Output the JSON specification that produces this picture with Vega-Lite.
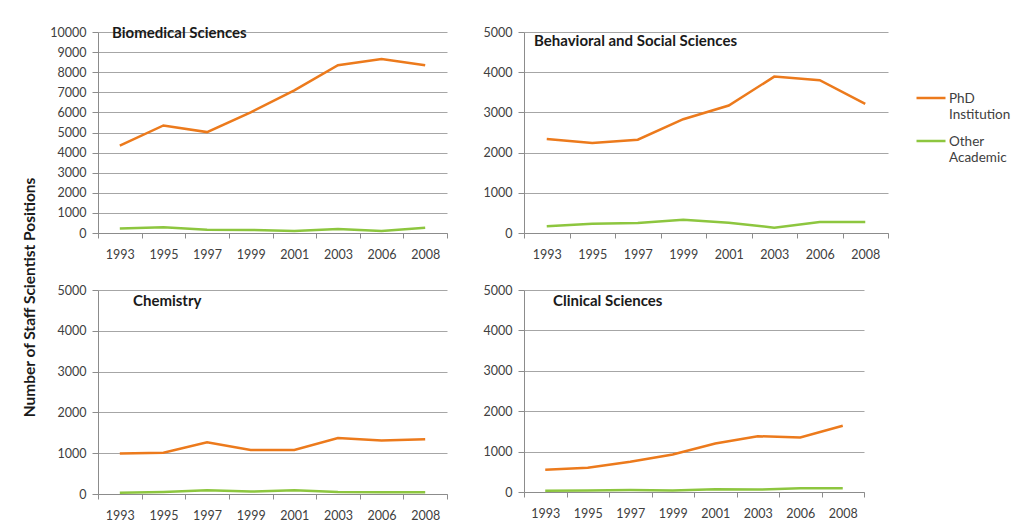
{
  "$schema": "https://vega.github.io/schema/vega-lite/v6.json",
  "padding": {"left": 22, "top": 26, "right": 5, "bottom": 5},
  "background": "white",
  "bounds": "flush",
  "columns": 2,
  "spacing": {"row": 57, "column": 77},
  "data": {
    "values": [
      {"panel": "Biomedical Sciences", "year": "1993", "type": "PhD Institution", "value": 4350},
      {"panel": "Biomedical Sciences", "year": "1995", "type": "PhD Institution", "value": 5350},
      {"panel": "Biomedical Sciences", "year": "1997", "type": "PhD Institution", "value": 5020},
      {"panel": "Biomedical Sciences", "year": "1999", "type": "PhD Institution", "value": 6000},
      {"panel": "Biomedical Sciences", "year": "2001", "type": "PhD Institution", "value": 7100},
      {"panel": "Biomedical Sciences", "year": "2003", "type": "PhD Institution", "value": 8350},
      {"panel": "Biomedical Sciences", "year": "2006", "type": "PhD Institution", "value": 8650},
      {"panel": "Biomedical Sciences", "year": "2008", "type": "PhD Institution", "value": 8350},
      {"panel": "Biomedical Sciences", "year": "1993", "type": "Other Academic", "value": 230},
      {"panel": "Biomedical Sciences", "year": "1995", "type": "Other Academic", "value": 280},
      {"panel": "Biomedical Sciences", "year": "1997", "type": "Other Academic", "value": 165},
      {"panel": "Biomedical Sciences", "year": "1999", "type": "Other Academic", "value": 150},
      {"panel": "Biomedical Sciences", "year": "2001", "type": "Other Academic", "value": 100},
      {"panel": "Biomedical Sciences", "year": "2003", "type": "Other Academic", "value": 200},
      {"panel": "Biomedical Sciences", "year": "2006", "type": "Other Academic", "value": 100},
      {"panel": "Biomedical Sciences", "year": "2008", "type": "Other Academic", "value": 265},
      {"panel": "Behavioral and Social Sciences", "year": "1993", "type": "PhD Institution", "value": 2340},
      {"panel": "Behavioral and Social Sciences", "year": "1995", "type": "PhD Institution", "value": 2240},
      {"panel": "Behavioral and Social Sciences", "year": "1997", "type": "PhD Institution", "value": 2320},
      {"panel": "Behavioral and Social Sciences", "year": "1999", "type": "PhD Institution", "value": 2830},
      {"panel": "Behavioral and Social Sciences", "year": "2001", "type": "PhD Institution", "value": 3170},
      {"panel": "Behavioral and Social Sciences", "year": "2003", "type": "PhD Institution", "value": 3890},
      {"panel": "Behavioral and Social Sciences", "year": "2006", "type": "PhD Institution", "value": 3800},
      {"panel": "Behavioral and Social Sciences", "year": "2008", "type": "PhD Institution", "value": 3210},
      {"panel": "Behavioral and Social Sciences", "year": "1993", "type": "Other Academic", "value": 170},
      {"panel": "Behavioral and Social Sciences", "year": "1995", "type": "Other Academic", "value": 232},
      {"panel": "Behavioral and Social Sciences", "year": "1997", "type": "Other Academic", "value": 249},
      {"panel": "Behavioral and Social Sciences", "year": "1999", "type": "Other Academic", "value": 330},
      {"panel": "Behavioral and Social Sciences", "year": "2001", "type": "Other Academic", "value": 257},
      {"panel": "Behavioral and Social Sciences", "year": "2003", "type": "Other Academic", "value": 133},
      {"panel": "Behavioral and Social Sciences", "year": "2006", "type": "Other Academic", "value": 274},
      {"panel": "Behavioral and Social Sciences", "year": "2008", "type": "Other Academic", "value": 274},
      {"panel": "Chemistry", "year": "1993", "type": "PhD Institution", "value": 990},
      {"panel": "Chemistry", "year": "1995", "type": "PhD Institution", "value": 1010},
      {"panel": "Chemistry", "year": "1997", "type": "PhD Institution", "value": 1270},
      {"panel": "Chemistry", "year": "1999", "type": "PhD Institution", "value": 1080},
      {"panel": "Chemistry", "year": "2001", "type": "PhD Institution", "value": 1080},
      {"panel": "Chemistry", "year": "2003", "type": "PhD Institution", "value": 1370},
      {"panel": "Chemistry", "year": "2006", "type": "PhD Institution", "value": 1310},
      {"panel": "Chemistry", "year": "2008", "type": "PhD Institution", "value": 1340},
      {"panel": "Chemistry", "year": "1993", "type": "Other Academic", "value": 30},
      {"panel": "Chemistry", "year": "1995", "type": "Other Academic", "value": 50},
      {"panel": "Chemistry", "year": "1997", "type": "Other Academic", "value": 90},
      {"panel": "Chemistry", "year": "1999", "type": "Other Academic", "value": 60},
      {"panel": "Chemistry", "year": "2001", "type": "Other Academic", "value": 90},
      {"panel": "Chemistry", "year": "2003", "type": "Other Academic", "value": 50},
      {"panel": "Chemistry", "year": "2006", "type": "Other Academic", "value": 40},
      {"panel": "Chemistry", "year": "2008", "type": "Other Academic", "value": 40},
      {"panel": "Clinical Sciences", "year": "1993", "type": "PhD Institution", "value": 550},
      {"panel": "Clinical Sciences", "year": "1995", "type": "PhD Institution", "value": 600},
      {"panel": "Clinical Sciences", "year": "1997", "type": "PhD Institution", "value": 750},
      {"panel": "Clinical Sciences", "year": "1999", "type": "PhD Institution", "value": 930},
      {"panel": "Clinical Sciences", "year": "2001", "type": "PhD Institution", "value": 1200},
      {"panel": "Clinical Sciences", "year": "2003", "type": "PhD Institution", "value": 1380},
      {"panel": "Clinical Sciences", "year": "2006", "type": "PhD Institution", "value": 1350},
      {"panel": "Clinical Sciences", "year": "2008", "type": "PhD Institution", "value": 1640},
      {"panel": "Clinical Sciences", "year": "1993", "type": "Other Academic", "value": 30},
      {"panel": "Clinical Sciences", "year": "1995", "type": "Other Academic", "value": 40},
      {"panel": "Clinical Sciences", "year": "1997", "type": "Other Academic", "value": 50},
      {"panel": "Clinical Sciences", "year": "1999", "type": "Other Academic", "value": 40},
      {"panel": "Clinical Sciences", "year": "2001", "type": "Other Academic", "value": 70},
      {"panel": "Clinical Sciences", "year": "2003", "type": "Other Academic", "value": 60},
      {"panel": "Clinical Sciences", "year": "2006", "type": "Other Academic", "value": 90},
      {"panel": "Clinical Sciences", "year": "2008", "type": "Other Academic", "value": 90}
    ]
  },
  "concat": [
    {
      "width": 349, "height": 201,
      "title": {"text": "Biomedical Sciences", "anchor": "start", "frame": "group", "offset": -22, "dx": 14, "baseline": "middle"},
      "transform": [{"filter": "datum.panel === 'Biomedical Sciences'"}],
      "mark": {"type": "line", "strokeWidth": 2.5},
      "encoding": {
        "x": {"field": "year", "type": "ordinal", "bandPosition": 0.5, "scale": {"type": "band", "paddingInner": 0, "paddingOuter": 0}},
        "y": {"field": "value", "type": "quantitative", "scale": {"domain": [0, 10000], "nice": false}, "axis": {"values": [0,1000,2000,3000,4000,5000,6000,7000,8000,9000,10000], "title": "Number of Staff Scientist Positions", "titleX": -69, "titleY": 265, "titleAngle": -90, "titleAlign": "center", "titleBaseline": "middle", "titleFontSize": 15.5, "titleFontWeight": "bold", "titleColor": "#1a1a1a", "titleFont": "Lato"}},
        "color": {"field": "type", "type": "nominal", "scale": {"domain": ["PhD Institution", "Other Academic"], "range": ["#EC7A1C", "#8DC63F"]}, "legend": {"labelExpr": "split(datum.label, ' ')", "encode": {"labels": {"update": {"dy": {"value": -6}}}}}}
      }
    },
    {
      "width": 364, "height": 201,
      "title": {"text": "Behavioral and Social Sciences", "anchor": "start", "frame": "group", "offset": -30, "dx": 10, "baseline": "middle"},
      "transform": [{"filter": "datum.panel === 'Behavioral and Social Sciences'"}],
      "mark": {"type": "line", "strokeWidth": 2.5},
      "encoding": {
        "x": {"field": "year", "type": "ordinal", "bandPosition": 0.5, "scale": {"type": "band", "paddingInner": 0, "paddingOuter": 0}},
        "y": {"field": "value", "type": "quantitative", "scale": {"domain": [0, 5000], "nice": false}, "axis": {"values": [0,1000,2000,3000,4000,5000]}},
        "color": {"field": "type", "type": "nominal"}
      }
    },
    {
      "width": 349, "height": 204,
      "title": {"text": "Chemistry", "anchor": "start", "frame": "group", "offset": -32, "dx": 35, "baseline": "middle"},
      "transform": [{"filter": "datum.panel === 'Chemistry'"}],
      "mark": {"type": "line", "strokeWidth": 2.5},
      "encoding": {
        "x": {"field": "year", "type": "ordinal", "bandPosition": 0.5, "scale": {"type": "band", "paddingInner": 0, "paddingOuter": 0}},
        "y": {"field": "value", "type": "quantitative", "scale": {"domain": [0, 5000], "nice": false}, "axis": {"values": [0,1000,2000,3000,4000,5000]}},
        "color": {"field": "type", "type": "nominal"}
      }
    },
    {
      "width": 340, "height": 202,
      "title": {"text": "Clinical Sciences", "anchor": "start", "frame": "group", "offset": -32, "dx": 29, "baseline": "middle"},
      "transform": [{"filter": "datum.panel === 'Clinical Sciences'"}],
      "mark": {"type": "line", "strokeWidth": 2.5},
      "encoding": {
        "x": {"field": "year", "type": "ordinal", "bandPosition": 0.5, "scale": {"type": "band", "paddingInner": 0, "paddingOuter": 0}},
        "y": {"field": "value", "type": "quantitative", "scale": {"domain": [0, 5000], "nice": false}, "axis": {"values": [0,1000,2000,3000,4000,5000]}},
        "color": {"field": "type", "type": "nominal"}
      }
    }
  ],
  "config": {
    "font": "Lato",
    "view": {"stroke": null},
    "title": {"font": "Lato", "fontSize": 15, "fontWeight": "bold", "color": "#1a1a1a"},
    "axis": {
      "title": null,
      "labelFont": "Lato", "labelFontSize": 12.5, "labelColor": "#404040",
      "domainColor": "#8c8c8c", "tickColor": "#8c8c8c", "tickSize": 5,
      "gridColor": "#a6a6a6", "gridWidth": 1
    },
    "axisX": {"grid": false, "labelAngle": 0, "tickBand": "extent", "labelPadding": 10, "domainColor": "#8c8c8c"},
    "axisY": {"grid": true, "tickSize": 6, "labelPadding": 6, "domain": true, "format": "d"},
    "legend": {
      "title": null, "orient": "none", "legendX": 817, "legendY": 50,
      "symbolType": "stroke", "symbolSize": 841, "symbolStrokeWidth": 2.5,
      "labelFont": "Lato", "labelFontSize": 13.5, "labelColor": "#404040",
      "labelBaseline": "top", "labelOffset": 2,
      "rowPadding": 4
    }
  }
}
